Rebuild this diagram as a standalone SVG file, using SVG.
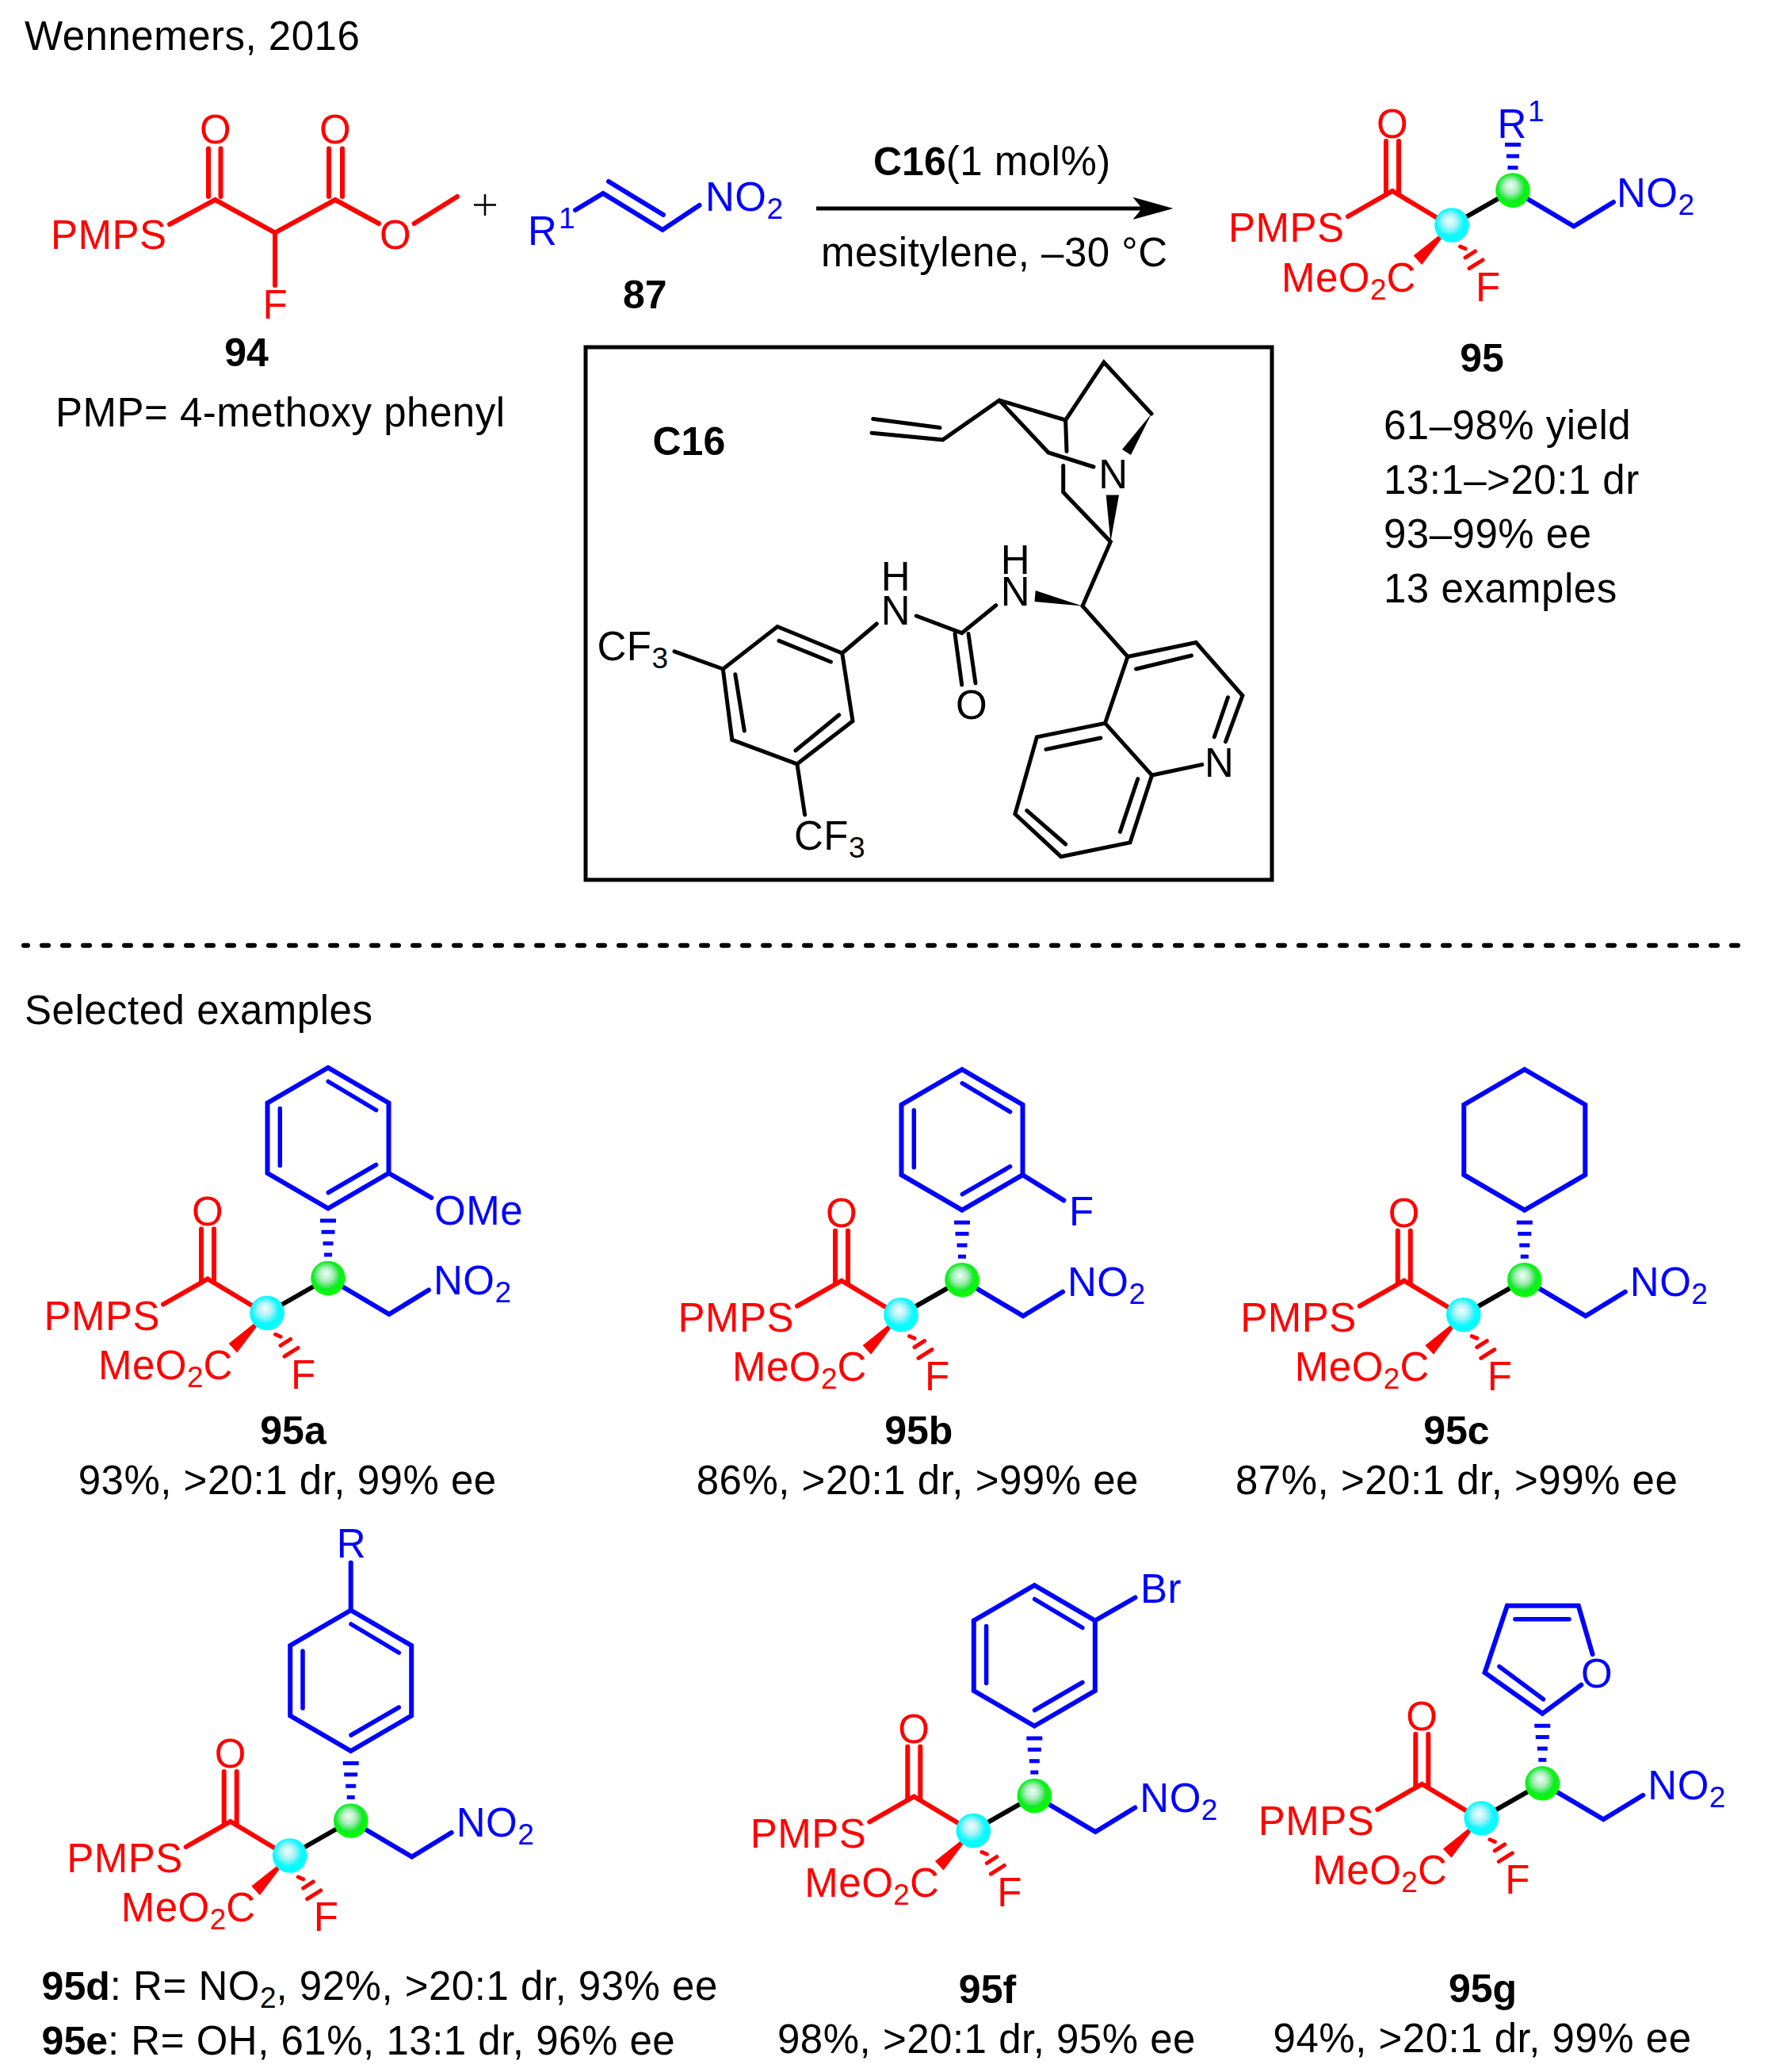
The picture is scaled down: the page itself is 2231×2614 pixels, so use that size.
<svg xmlns="http://www.w3.org/2000/svg" xmlns:xlink="http://www.w3.org/1999/xlink" width="2231" height="2614" viewBox="0 0 2231 2614">
<style>
text{font-family:"Liberation Sans",Arial,sans-serif;font-size:51px;letter-spacing:.5px;fill:#000}
.bd{font-weight:bold;font-size:50px;letter-spacing:0}
.s{font-size:37px;letter-spacing:0}
text.r{fill:#f00}
text.b{fill:#00f}
.lr,.lb,.lk{fill:none;stroke-linecap:round;stroke-linejoin:miter}
.lr{stroke:#f00;stroke-width:6}
.lb{stroke:#00f;stroke-width:6}
.lk{stroke:#000;stroke-width:5}
.inner{stroke-width:5.5}
</style>
<defs>
<radialGradient id="gc" cx=".45" cy=".44" r=".52" fx=".44" fy=".36"><stop offset="0" stop-color="#f6ffff"/><stop offset=".4" stop-color="#a8f2f6"/><stop offset=".76" stop-color="#0cf8ff"/><stop offset="1" stop-color="#0ff"/></radialGradient>
<radialGradient id="gg" cx=".45" cy=".44" r=".52" fx=".44" fy=".36"><stop offset="0" stop-color="#f2fff6"/><stop offset=".4" stop-color="#a8ecbc"/><stop offset=".76" stop-color="#10ea24"/><stop offset="1" stop-color="#0f0"/></radialGradient>
<g id="core">
<path class="lr" d="M-131-11-75-43-15-7"/>
<path class="lr" d="M-83-106V-40M-67-106V-40"/>
<polygon points="0,0 -48.4,38.6 -37.8,50" fill="#f00"/>
<path class="lr" style="stroke-width:5" d="M10.6 27 17 29.7M17 41 29.5 33M22 54.7 39 44"/>
<path class="lk" style="stroke-width:6" d="M0 0 77-44"/>
<path class="lb" d="M77-44 154 1.5 204-29"/>
<circle r="21.8" fill="url(#gc)"/>
<circle cx="77" cy="-44" r="21.8" fill="url(#gg)"/>
</g>
<g id="hash">
<path class="lb" style="stroke-linecap:butt;stroke-width:5" d="M67-116.5H87M68.500-102.300H85.500M70.500-87.700H83.500M72-73.500H82"/>
</g>
<g id="benzene">
<path class="lb" d="M77-132 153.5-176.500V-265L77-309.500 .5-265V-176.500Z"/>
<path class="lb inner" d="M77.300-292 137.600-256M16.300-258V-186M137.600-187 77.300-152"/>
</g>
</defs>

<g id="title"><text x="31" y="62.500">Wennemers, 2016</text></g>

<g id="compound-94">
<path class="lr" d="M214 283 271.500 252 347 293.600 423 252 478 282M522.600 282 577 248M347 293.600V360"/>
<path class="lr" d="M263 187.500V248M278.500 187.500V248M415 187.500V248M432 187.500V248"/>
<text class="r" x="252" y="181">O</text><text class="r" x="403" y="181">O</text>
<text class="r" x="64" y="314">PMPS</text>
<text class="r" x="479" y="314">O</text>
<text class="r" x="331.500" y="402">F</text>
<text class="bd" x="311" y="462" text-anchor="middle">94</text>
<text x="70" y="537.500">PMP= 4-methoxy phenyl</text>
</g>

<g id="plus"><path d="M612 245V272M598 258.500H626" stroke="#000" stroke-width="2.500" fill="none"/></g>

<g id="compound-87">
<path class="lb" d="M726 265 761 244 836 290 882.500 259M768 229 837 271"/>
<text class="b" x="666" y="309">R</text><text class="b s" x="705" y="287.500">1</text>
<text class="b" x="890" y="266">NO<tspan class="s" dy="10">2</tspan></text>
<text class="bd" x="813.700" y="389" text-anchor="middle">87</text>
</g>

<g id="connectors">
<path d="M1030 263H1445" stroke="#000" stroke-width="5" fill="none"/>
<polygon points="1480.500,263 1429.500,248.700 1441,263 1429.500,277" fill="#000"/>
</g>
<g id="arrow-labels">
<text x="1102" y="220.500"><tspan class="bd">C16</tspan>(1 mol%)</text>
<text x="1036" y="336">mesitylene, –30 °C</text>
</g>

<g id="compound-95">
<g transform="translate(1832 284)">
<use href="#core"/>
<path class="lb" style="stroke-linecap:butt;stroke-width:5" d="M67-101.400H87M69-87H85M70.500-72.400H83.500"/>
<text class="r" x="-95" y="-110">O</text>
<text class="r" x="-282" y="21">PMPS</text>
<text class="r" x="-215" y="84">MeO<tspan class="s" dy="10">2</tspan><tspan dy="-10">C</tspan></text>
<text class="r" x="30" y="96">F</text>
<text class="b" x="208" y="-23">NO<tspan class="s" dy="10">2</tspan></text>
<text class="b" x="57.500" y="-110">R</text><text class="b s" x="96" y="-131.300">1</text>
</g>
<text class="bd" x="1870" y="469" text-anchor="middle">95</text>
<text x="1746" y="554">61–98% yield</text>
<text x="1746" y="623">13:1–&gt;20:1 dr</text>
<text x="1746" y="691">93–99% ee</text>
<text x="1746" y="760">13 examples</text>
</g>

<g id="catalyst-C16">
<rect x="739" y="438" width="866" height="672" fill="none" stroke="#000" stroke-width="5"/>
<text class="bd" x="823.500" y="574">C16</text>
<g>
<path class="lk" d="M1100 546.300 1189.600 554.800 1261 505 1344.600 530 1393 457 1453 522M1101.700 528.500 1186 539.600M1261 505 1323 571 1380 589M1344.600 530 1346 569.500M1341.700 587.400V621L1401.400 683.400 1366 764.600 1423 828.500 1509.300 810.600 1567.900 877.600 1546.600 935.600M1256.700 763.700 1213.700 798.600 1156.300 777M1205 799.500 1213.700 864M1222 799.500 1231 862"/>
<path class="lk" d="M1106.300 787 1062.700 824 981 790.500 912.300 844 923.800 933.400 1005.900 963.800 1076 909.700 1062.700 824M983 808.400 1048.400 835M927.800 850.800 939.300 922M1004 946.800 1058.700 902M851 821.800 912.300 844M1005.900 963.800 1015.600 1028"/>
<path class="lk" d="M1423 828.500 1394.500 912.400 1308.400 929.800 1280.900 1027 1338.800 1080.700 1426 1062.900 1453.600 978 1394.500 912.400M1453.600 978 1516.800 964.600M1433.600 844 1503.600 827M1549.500 879.800 1532.300 929.800M1388.800 931 1320 945.400M1295.800 1022.700 1344.600 1065M1435.800 982.500 1413.400 1049.500"/>
</g>
<polygon points="1453,522 1416,567 1427,574" fill="#000"/>
<polygon points="1401.400,683.400 1395.700,624.500 1412,624.500" fill="#000"/>
<polygon points="1366,764.600 1306.700,745 1305.500,759" fill="#000"/>
<text x="1405" y="616.400" text-anchor="middle">N</text>
<text x="1281.500" y="763.700" text-anchor="middle">N</text><text x="1281.500" y="723.600" text-anchor="middle">H</text>
<text x="1130.500" y="788" text-anchor="middle">N</text><text x="1130.500" y="745" text-anchor="middle">H</text>
<text x="1226" y="906.600" text-anchor="middle">O</text>
<text x="1538.600" y="980" text-anchor="middle">N</text>
<text x="753.500" y="833">CF<tspan class="s" dy="10">3</tspan></text>
<text x="1002" y="1071.800">CF<tspan class="s" dy="10">3</tspan></text>
</g>

<g id="divider"><path d="M30 1192.700H2204" stroke="#000" stroke-width="6" stroke-linecap="round" stroke-dasharray="8 18" stroke-dashoffset="3" fill="none"/></g>
<g id="selected-label"><text x="31" y="1291.700">Selected examples</text></g>

<g id="compound-95a">
<g transform="translate(337 1656.500)">
<use href="#benzene"/><use href="#hash"/><use href="#core"/>
<path class="lb" d="M153.500-176.500 207.300-145.500"/>
<text class="b" x="211" y="-112">OMe</text>
<text class="r" x="-95" y="-111">O</text>
<text class="r" x="-281.500" y="21">PMPS</text>
<text class="r" x="-213" y="83">MeO<tspan class="s" dy="10">2</tspan><tspan dy="-10">C</tspan></text>
<text class="r" x="30" y="95">F</text>
<text class="b" x="210" y="-24">NO<tspan class="s" dy="10">2</tspan></text>
</g>
<text class="bd" x="370" y="1821.800" text-anchor="middle">95a</text>
<text x="98.700" y="1884.500">93%, &gt;20:1 dr, 99% ee</text>
</g>

<g id="compound-95b">
<g transform="translate(1137 1658.700)">
<use href="#benzene"/><use href="#hash"/><use href="#core"/>
<path class="lb" d="M153.500-176.500 205.300-144.300"/>
<text class="b" x="212" y="-113">F</text>
<text class="r" x="-95" y="-111">O</text>
<text class="r" x="-281.500" y="21">PMPS</text>
<text class="r" x="-213" y="83">MeO<tspan class="s" dy="10">2</tspan><tspan dy="-10">C</tspan></text>
<text class="r" x="30" y="95">F</text>
<text class="b" x="210" y="-24">NO<tspan class="s" dy="10">2</tspan></text>
</g>
<text class="bd" x="1159.300" y="1821.800" text-anchor="middle">95b</text>
<text x="878.700" y="1884.500">86%, &gt;20:1 dr, &gt;99% ee</text>
</g>

<g id="compound-95c">
<g transform="translate(1846.800 1658.700)">
<path class="lb" d="M77-132 153.500-176.500V-265L77-309.500 .5-265V-176.500Z"/>
<use href="#hash"/><use href="#core"/>
<text class="r" x="-95" y="-111">O</text>
<text class="r" x="-281.500" y="21">PMPS</text>
<text class="r" x="-213" y="83">MeO<tspan class="s" dy="10">2</tspan><tspan dy="-10">C</tspan></text>
<text class="r" x="30" y="95">F</text>
<text class="b" x="210" y="-24">NO<tspan class="s" dy="10">2</tspan></text>
</g>
<text class="bd" x="1837.900" y="1821.800" text-anchor="middle">95c</text>
<text x="1559" y="1884.500">87%, &gt;20:1 dr, &gt;99% ee</text>
</g>

<g id="compound-95de">
<g transform="translate(365.700 2341)">
<use href="#benzene"/><use href="#hash"/><use href="#core"/>
<path class="lb" d="M77-309.500V-369.600"/>
<text class="b" x="59" y="-376">R</text>
<text class="r" x="-95" y="-111">O</text>
<text class="r" x="-281.500" y="21">PMPS</text>
<text class="r" x="-213" y="83">MeO<tspan class="s" dy="10">2</tspan><tspan dy="-10">C</tspan></text>
<text class="r" x="30" y="95">F</text>
<text class="b" x="210" y="-24">NO<tspan class="s" dy="10">2</tspan></text>
</g>
<text x="52.600" y="2523.400"><tspan class="bd">95d</tspan>: R= NO<tspan class="s" dy="10">2</tspan><tspan dy="-10">, 92%, &gt;20:1 dr, 93% ee</tspan></text>
<text x="52.600" y="2592.300"><tspan class="bd">95e</tspan>: R= OH, 61%, 13:1 dr, 96% ee</text>
</g>

<g id="compound-95f">
<g transform="translate(1228.300 2309.500)">
<use href="#benzene"/><use href="#hash"/><use href="#core"/>
<path class="lb" d="M153.500-265 204.200-294"/>
<text class="b" x="210.700" y="-287.800">Br</text>
<text class="r" x="-95" y="-111">O</text>
<text class="r" x="-281.500" y="21">PMPS</text>
<text class="r" x="-213" y="83">MeO<tspan class="s" dy="10">2</tspan><tspan dy="-10">C</tspan></text>
<text class="r" x="30" y="95">F</text>
<text class="b" x="210" y="-24">NO<tspan class="s" dy="10">2</tspan></text>
</g>
<text class="bd" x="1246" y="2527" text-anchor="middle">95f</text>
<text x="981" y="2589.700">98%, &gt;20:1 dr, 95% ee</text>
</g>

<g id="compound-95g">
<g transform="translate(1869.300 2293.800)">
<path class="lb" d="M140.300-206.800 122.500-268.100H32.600L4.300-183.600 77-132 126-168.200"/>
<path class="lb inner" d="M42.600-251.100H110.700M22.600-191.300 78.200-150"/>
<text class="b" x="145.700" y="-165" text-anchor="middle">O</text>
<use href="#hash"/><use href="#core"/>
<text class="r" x="-95" y="-111">O</text>
<text class="r" x="-281.500" y="21">PMPS</text>
<text class="r" x="-213" y="83">MeO<tspan class="s" dy="10">2</tspan><tspan dy="-10">C</tspan></text>
<text class="r" x="30" y="95">F</text>
<text class="b" x="210" y="-24">NO<tspan class="s" dy="10">2</tspan></text>
</g>
<text class="bd" x="1871" y="2526" text-anchor="middle">95g</text>
<text x="1606.600" y="2589.400">94%, &gt;20:1 dr, 99% ee</text>
</g>
</svg>
